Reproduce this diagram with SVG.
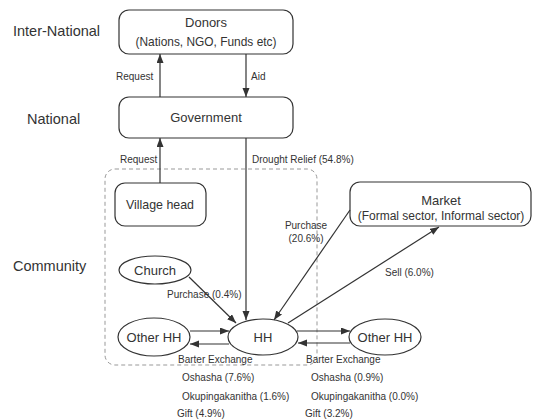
<svg xmlns="http://www.w3.org/2000/svg" width="535" height="420" viewBox="0 0 535 420">
<defs>
<marker id="ah" markerUnits="userSpaceOnUse" markerWidth="10" markerHeight="8" refX="9" refY="3.5" orient="auto">
<path d="M0,0 L9,3.5 L0,7 z" fill="#333"/>
</marker>
<style>
.t{font-family:"Liberation Sans",Arial,sans-serif;fill:#333}
.big{font-size:14.5px}
.node{font-size:13px}
.lab{font-size:10px}
.box{fill:#fff;stroke:#333;stroke-width:1.2}
.ln{stroke:#333;stroke-width:1.2;fill:none;marker-end:url(#ah)}
.dash{fill:none;stroke:#999;stroke-width:1;stroke-dasharray:4 3}
</style>
</defs>
<rect width="535" height="420" fill="#fff"/>
<g id="levels">
<text class="t big" x="13" y="36">Inter-National</text>
<text class="t big" x="27" y="124">National</text>
<text class="t big" x="13" y="271">Community</text>
</g>
<rect id="community-area" class="dash" x="105" y="169" width="212" height="196" rx="10"/>
<g id="donors">
<rect class="box" x="119" y="10" width="174" height="44" rx="10"/>
<text class="t node" x="206" y="27" text-anchor="middle">Donors</text>
<text class="t node" x="206" y="46" text-anchor="middle" textLength="141" lengthAdjust="spacingAndGlyphs">(Nations, NGO, Funds etc)</text>
</g>
<g id="government">
<rect class="box" x="119" y="97" width="174" height="41" rx="10"/>
<text class="t node" x="206" y="122" text-anchor="middle">Government</text>
</g>
<g id="village-head">
<rect class="box" x="115" y="183" width="91" height="43" rx="10"/>
<text class="t node" x="160" y="209" text-anchor="middle" textLength="68" lengthAdjust="spacingAndGlyphs">Village head</text>
</g>
<g id="market">
<rect class="box" x="350" y="182" width="181" height="44" rx="10"/>
<text class="t node" x="441" y="205" text-anchor="middle">Market</text>
<text class="t" x="441" y="220" text-anchor="middle" font-size="12">(Formal sector, Informal sector)</text>
</g>
<g id="church">
<ellipse class="box" cx="155" cy="270" rx="36" ry="14"/>
<text class="t node" x="155" y="275" text-anchor="middle">Church</text>
</g>
<g id="hh">
<ellipse class="box" cx="263" cy="337" rx="35" ry="18"/>
<text class="t node" x="263" y="342" text-anchor="middle">HH</text>
</g>
<g id="other-hh-left">
<ellipse class="box" cx="154" cy="337" rx="36" ry="19"/>
<text class="t node" x="154" y="342" text-anchor="middle">Other HH</text>
</g>
<g id="other-hh-right">
<ellipse class="box" cx="385" cy="337" rx="36" ry="18"/>
<text class="t node" x="385" y="342" text-anchor="middle">Other HH</text>
</g>
<g id="connectors">
<line class="ln" x1="160" y1="97" x2="160" y2="54"/>
<line class="ln" x1="246" y1="54" x2="246" y2="97"/>
<line class="ln" x1="160" y1="183" x2="160" y2="138"/>
<line class="ln" x1="246" y1="138" x2="246" y2="320"/>
<line class="ln" x1="350" y1="210" x2="274" y2="320"/>
<line class="ln" x1="288" y1="323" x2="439" y2="227"/>
<line class="ln" x1="189" y1="277" x2="236" y2="323"/>
<line class="ln" x1="190" y1="331" x2="229" y2="331"/>
<line class="ln" x1="229" y1="344" x2="190" y2="344"/>
<line class="ln" x1="297" y1="331" x2="350" y2="331"/>
<line class="ln" x1="350" y1="343" x2="298" y2="343"/>
</g>
<g id="labels">
<text class="t lab" x="116" y="80">Request</text>
<text class="t lab" x="251" y="80">Aid</text>
<text class="t lab" x="120" y="163">Request</text>
<text class="t lab" x="252" y="163">Drought Relief (54.8%)</text>
<text class="t lab" x="306" y="229" text-anchor="middle">Purchase</text>
<text class="t lab" x="306" y="242" text-anchor="middle">(20.6%)</text>
<text class="t lab" x="385" y="276">Sell (6.0%)</text>
<text class="t lab" x="167" y="298">Purchase (0.4%)</text>
<text class="t lab" x="178" y="363">Barter Exchange</text>
<text class="t lab" x="182" y="381">Oshasha (7.6%)</text>
<text class="t lab" x="182" y="400">Okupingakanitha (1.6%)</text>
<text class="t lab" x="177" y="417">Gift (4.9%)</text>
<text class="t lab" x="306" y="363">Barter Exchange</text>
<text class="t lab" x="311" y="381">Oshasha (0.9%)</text>
<text class="t lab" x="311" y="400">Okupingakanitha (0.0%)</text>
<text class="t lab" x="305" y="417">Gift (3.2%)</text>
</g>
</svg>
